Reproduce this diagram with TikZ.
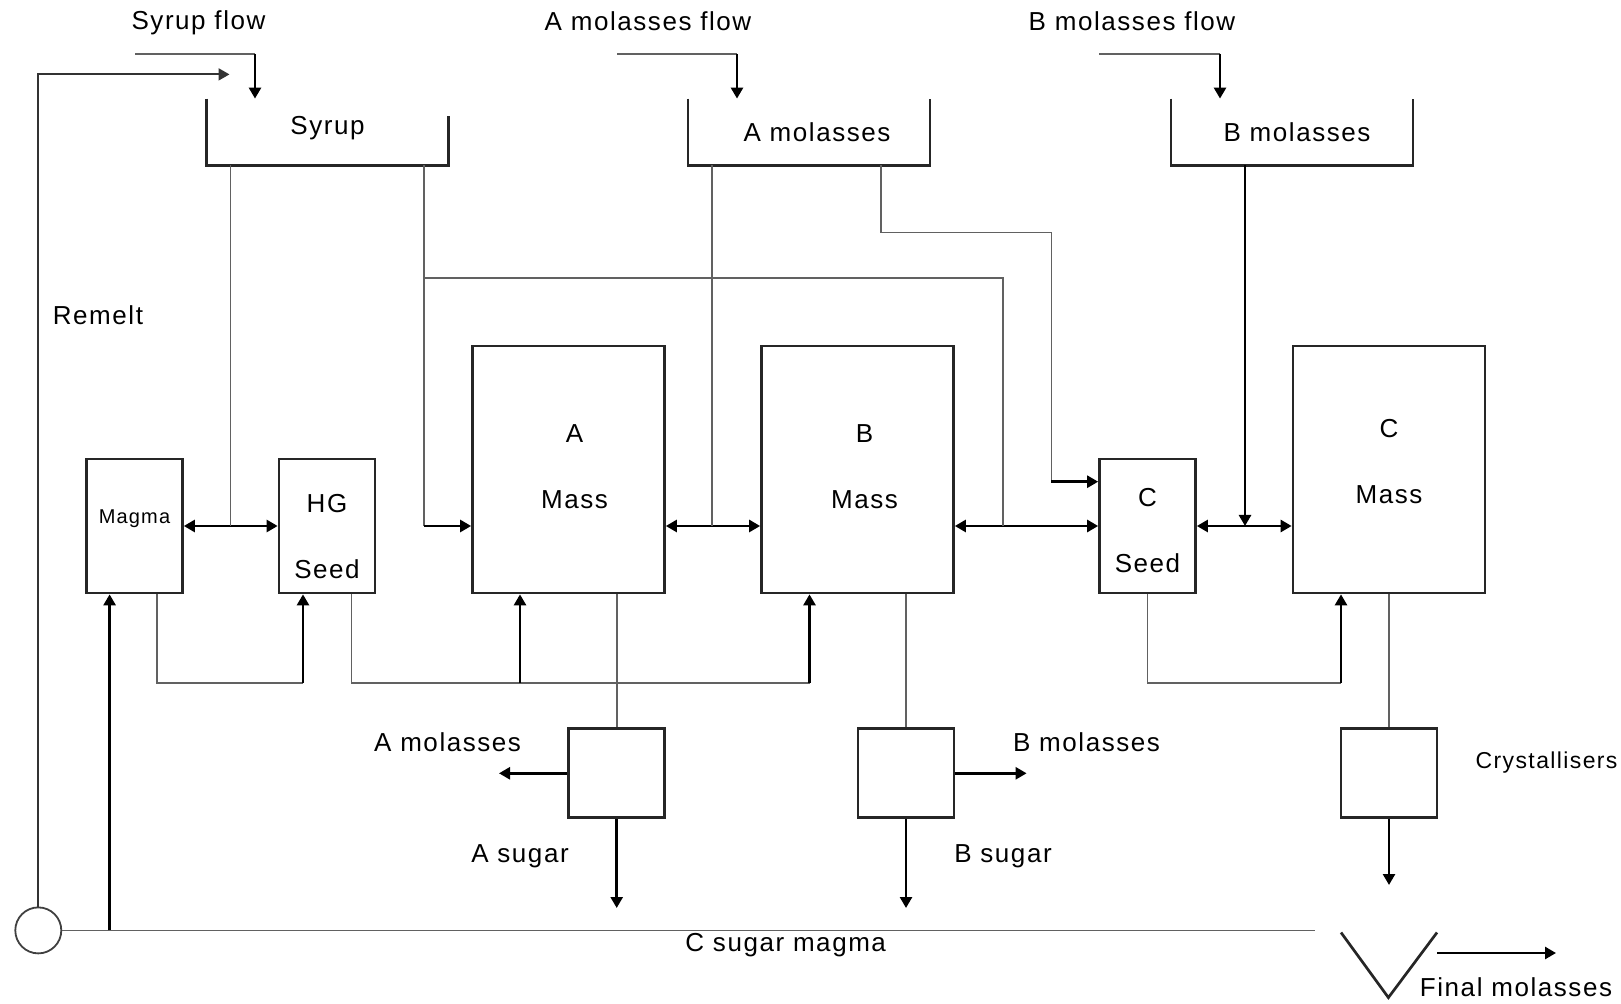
\documentclass[tikz,border=0pt]{standalone}
\usepackage{fontspec}
\setmainfont{Liberation Sans}[LetterSpace=6]
\usetikzlibrary{arrows.meta,calc}

\tikzset{
    tip/.tip={Triangle[length=5.5pt,width=6pt]},
    vessel/.style={draw=black!85, line width=1.35pt, inner sep=0pt},
    small/.style={vessel, minimum width=48pt, minimum height=67pt},
    mass/.style={vessel, minimum width=96pt, minimum height=123.5pt},
    centri/.style={vessel, minimum width=48pt, minimum height=44.5pt},
    txt/.style={align=center, inner sep=0pt, font=\fontsize{13}{33}\selectfont},
    pan/.style={inner sep=0pt, minimum width=120.5pt, minimum height=33pt},
    tank/.style={draw=black!85, line width=1.35pt},
    pipe/.style={draw=black!62, line width=0.9pt},
    feed/.style={draw=black, line width=1.3pt, -tip},
    both/.style={draw=black, line width=1.3pt, tip-tip},
    ret/.style={draw=black!80, line width=1pt, -tip},
    lbl/.style={inner sep=0pt, font=\fontsize{13}{15}\selectfont}
}

\begin{document}
\begin{tikzpicture}[x=0.5pt, y=-0.5pt]
    \useasboundingbox (0,0) rectangle (1621,1004);

    % tanks
    \node[pan, label={[txt, yshift=2pt]center:Syrup}] (syr) at (327.5,132) {};
    \node[pan, label={[txt, xshift=4pt]center:A molasses}] (amol) at (809,132) {};
    \node[pan, label={[txt, xshift=2.5pt]center:B molasses}] (bmol) at (1292,132) {};
    \draw[tank] (syr.north west) -- (syr.south west) -- (syr.south east) -- ([yshift=-8.5pt]syr.north east);
    \draw[tank] (amol.north west) -- (amol.south west) -- (amol.south east) -- (amol.north east);
    \draw[tank] (bmol.north west) -- (bmol.south west) -- (bmol.south east) -- (bmol.north east);

    % pans and mass boxes
    \node[small, label={[txt, font=\fontsize{10}{12}\selectfont, yshift=3.5pt]center:Magma}] (magma) at (134.5,526) {};
    \node[small, label={[txt, yshift=-5.5pt]center:HG\\Seed}] (hg) at (327,526) {};
    \node[mass, label={[txt, xshift=3pt, yshift=1.5pt]center:A\\Mass}] (amass) at (568.5,469.5) {};
    \node[mass, label={[txt, xshift=3.5pt, yshift=1.5pt]center:B\\Mass}] (bmass) at (857.5,469.5) {};
    \node[small, label={[txt, yshift=-2.5pt]center:C\\Seed}] (cseed) at (1147.5,526) {};
    \node[mass, label={[txt, yshift=4pt]center:C\\Mass}] (cmass) at (1389,469.5) {};

    \node[centri] (acent) at (616.7,773.3) {};
    \node[centri] (bcent) at (906,773.3) {};
    \node[centri] (cryst) at (1389,773.3) {};

    \node[draw=black!75, line width=0.9pt, circle, minimum size=23pt, inner sep=0pt] (pump) at (38.3,930.4) {};

    % flow inputs
    \coordinate (sf) at (135,54);
    \coordinate (sfk) at (255,54);
    \coordinate (af) at (617,54);
    \coordinate (afk) at (737,54);
    \coordinate (bf) at (1099,54);
    \coordinate (bfk) at (1220,54);
    \draw[pipe] (sf) -- (sfk);
    \draw[feed] (sfk) -- (sfk |- syr.north);
    \draw[pipe] (af) -- (afk);
    \draw[feed] (afk) -- (afk |- amol.north);
    \draw[pipe] (bf) -- (bfk);
    \draw[feed] (bfk) -- (bfk |- bmol.north);

    \node[lbl] (sft) at (198.5,23) {Syrup flow};
    \node[lbl] (aft) at (648,21) {A molasses flow};
    \node[lbl] (bft) at (1132,21) {B molasses flow};

    % junctions on the pan line
    \coordinate (j1) at (230.5,526);
    \coordinate (j2) at (712,526);
    \coordinate (j3) at (1003,526);
    \coordinate (j4) at (1245,526);
    \coordinate (s2) at (424,278);
    \coordinate (k) at (881,232.6);
    \coordinate (k2) at (1051.4,481.7);

    \draw[both] (magma) -- (hg);
    \draw[both] (amass.east |- magma) -- (bmass.west |- magma);
    \draw[both] (bmass.east |- cseed) -- (cseed.west);
    \draw[both] (cseed.east) -- (cmass.west |- cseed);

    \draw[pipe] (syr.south -| j1) -- (j1);
    \draw[pipe] (syr.south -| s2) -- (s2 |- magma);
    \draw[feed] (s2 |- magma) -- (amass.west |- magma);
    \draw[pipe] (s2) -| (j3);
    \draw[pipe] (amol.south -| j2) -- (j2);
    \draw[pipe] (amol.south -| k) -- (k) -| (k2);
    \draw[feed] (k2) -- (k2 -| cseed.west);
    \draw[feed] (bmol.south -| j4) -- (j4);

    % seed lines below
    \coordinate (l1) at (157,683);
    \coordinate (l2) at (303,683);
    \coordinate (l3) at (351.5,683);
    \coordinate (l4) at (809.5,683);
    \coordinate (l5) at (520,683);
    \coordinate (l6) at (1341,683);
    \draw[pipe] (magma.south -| l1) |- (l2);
    \draw[feed] (l2) -- (l2 |- hg.south);
    \draw[pipe] (hg.south -| l3) |- (l4);
    \draw[feed] (l4) -- (l4 |- bmass.south);
    \draw[feed] (l5) -- (l5 |- amass.south);
    \draw[pipe] (cseed.south) |- (l6);
    \draw[feed] (l6) -- (l6 |- cmass.south);

    % centrifugals
    \draw[pipe] (amass.south -| acent.north) -- (acent.north);
    \draw[pipe] (bmass.south -| bcent.north) -- (bcent.north);
    \draw[pipe] (cmass.south) -- (cryst.north);

    \coordinate (am) at (499,773.3);
    \coordinate (as) at (616.7,908);
    \coordinate (bm) at (1026.6,773.3);
    \coordinate (bs) at (906,908);
    \coordinate (cs) at (1389,885);
    \draw[feed] (acent.west) -- (am);
    \draw[feed] (acent.south) -- (as);
    \draw[feed] (bcent.east) -- (bm);
    \draw[feed] (bcent.south) -- (bs);
    \draw[feed] (cryst.south) -- (cs);

    \node[lbl] (amt) at (447.6,742) {A molasses};
    \node[lbl] (ast) at (520,856) {A sugar};
    \node[lbl] (bmt) at (1086.5,742) {B molasses};
    \node[lbl] (bst) at (1003,856) {B sugar};
    \node[lbl, font=\fontsize{11.5}{14}\selectfont] (crt) at (1546.6,763) {Crystallisers};

    % C sugar magma and remelt
    \coordinate (rm) at (229.5,74.4);
    \coordinate (cm) at (109.6,930.4);
    \coordinate (cend) at (1315,930.4);
    \draw[ret] (pump.north) |- (rm);
    \draw[pipe] (pump.east) -- (cend);
    \draw[feed] (cm) -- (cm |- magma.south);
    \node[lbl] (rmt) at (98,315) {Remelt};
    \node[lbl] (cmt) at (785.7,945) {C sugar magma};

    % final molasses
    \draw[tank] (1341,932.5) -- (1388.4,997.6) -- (1437,932.5);
    \coordinate (fm) at (1437,953);
    \coordinate (fm2) at (1556,953);
    \draw[feed] (fm) -- (fm2);
    \node[lbl] (fmt) at (1516,987) {Final molasses};
\end{tikzpicture}
\end{document}
